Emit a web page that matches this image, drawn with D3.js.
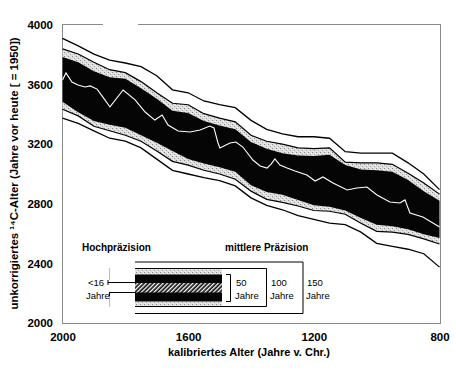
<!DOCTYPE html>
<html><head><meta charset="utf-8">
<script src="https://cdn.jsdelivr.net/npm/d3@7"></script>
<style>body{margin:0;background:#fff}svg{display:block}</style>
</head><body><svg id="c" width="456" height="370"></svg>
<script>
// calibrated age (years BC) sample positions for the envelope lines
const years = [2000,1950,1900,1850,1800,1750,1700,1650,1600,1550,1500,1450,1400,1350,1300,1250,1200,1150,1100,1050,1000,950,900,850,800];
// uncorrected 14C ages of envelope boundaries (top to bottom)
const outerUpper = [3910,3860,3805,3765,3745,3720,3660,3565,3545,3490,3465,3445,3360,3300,3270,3250,3250,3240,3150,3140,3140,3140,3075,3000,2895];
const innerUpper = [3840,3805,3750,3700,3680,3620,3545,3475,3465,3405,3375,3350,3260,3220,3200,3175,3170,3175,3080,3075,3075,3065,3005,2940,2865];
const blackUpper = [3785,3750,3690,3650,3640,3575,3505,3425,3410,3355,3325,3300,3215,3170,3140,3125,3120,3130,3060,3030,3025,3015,2960,2885,2820];
const blackLower = [3485,3415,3355,3330,3310,3260,3210,3155,3100,3070,3045,3015,2925,2880,2860,2825,2790,2780,2755,2705,2660,2650,2630,2595,2570];
const innerLower = [3435,3390,3320,3290,3260,3220,3155,3085,3060,3025,3000,2965,2885,2830,2810,2785,2755,2750,2730,2670,2615,2610,2595,2565,2530];
const outerLower = [3375,3340,3290,3240,3220,3175,3100,3025,3000,2975,2955,2920,2840,2790,2760,2720,2695,2670,2660,2610,2535,2515,2495,2465,2375];
// high-precision centre curve
const centerYears = [2000,1989,1970,1951,1928,1912,1890,1865,1849,1807,1769,1737,1706,1683,1664,1632,1594,1562,1531,1518,1505,1499,1467,1448,1426,1394,1371,1349,1336,1324,1308,1285,1260,1222,1196,1171,1139,1094,1063,1031,999,958,926,910,894,853,805,800];
const centerAges  = [3631,3678,3617,3597,3584,3591,3570,3497,3450,3564,3497,3416,3362,3396,3329,3289,3282,3295,3322,3309,3208,3175,3208,3215,3181,3094,3054,3040,3067,3101,3060,3040,3020,2993,2953,2980,2940,2893,2906,2913,2859,2812,2805,2826,2738,2711,2651,2644];
const xTicks = [2000,1600,1200,800];
const yTicks = [2000,2400,2800,3200,3600,4000];
const xTitle = "kalibriertes Alter (Jahre v. Chr.)";
const yTitle = "unkorrigiertes \u00B9\u2074C-Alter (Jahre vor heute [ = 1950])";
const legendTitles = ["Hochpräzision","mittlere Präzision"];
const legendSpans = ["50","100","150"];
const legendCenter = "<16";

const svg = d3.select("#c");
const FONT = "'Liberation Sans', Arial, Helvetica, sans-serif";
const x = d3.scaleLinear().domain([2000,800]).range([62.5,439.5]);
const y = d3.scaleLinear().domain([2000,4000]).range([323,25]);

const defs = svg.append("defs");
const st = defs.append("pattern").attr("id","stip").attr("patternUnits","userSpaceOnUse").attr("width",4).attr("height",4);
st.append("rect").attr("width",4).attr("height",4).attr("fill","#dedede");
st.append("rect").attr("x",0).attr("y",0).attr("width",1).attr("height",1).attr("fill","#8a8a8a");
st.append("rect").attr("x",2).attr("y",2).attr("width",1).attr("height",1).attr("fill","#a4a4a4");
st.append("rect").attr("x",3).attr("y",1).attr("width",1).attr("height",1).attr("fill","#f4f4f4");
st.append("rect").attr("x",1).attr("y",3).attr("width",1).attr("height",1).attr("fill","#f4f4f4");
const ht = defs.append("pattern").attr("id","hatch").attr("patternUnits","userSpaceOnUse").attr("width",3).attr("height",3).attr("patternTransform","rotate(45)");
ht.append("rect").attr("width",3).attr("height",3).attr("fill","#111");
ht.append("rect").attr("width",1.3).attr("height",3).attr("fill","#fff");

const rows = years.map((yr,i)=>({yr,ou:outerUpper[i],iu:innerUpper[i],bu:blackUpper[i],bl:blackLower[i],il:innerLower[i],ol:outerLower[i]}));

// frame
const fr = svg.append("g").attr("stroke","#8a8a8a").attr("stroke-width",1).attr("fill","none");
fr.append("line").attr("x1",62.5).attr("x2",62.5).attr("y1",24.5).attr("y2",323.5);
fr.append("line").attr("x1",62).attr("x2",441).attr("y1",323.5).attr("y2",323.5);
fr.append("line").attr("x1",440.5).attr("x2",440.5).attr("y1",24.5).attr("y2",323.5);
fr.append("line").attr("x1",62).attr("x2",103).attr("y1",24.5).attr("y2",24.5);
fr.append("line").attr("x1",138).attr("x2",441).attr("y1",24.5).attr("y2",24.5);

// gray (stippled) 100-year band
svg.append("path").datum(rows)
  .attr("d", d3.area().x(d=>x(d.yr)).y0(d=>y(d.il)).y1(d=>y(d.iu)))
  .attr("fill","url(#stip)");
// black 50-year band
svg.append("path").datum(rows)
  .attr("d", d3.area().x(d=>x(d.yr)).y0(d=>y(d.bl)).y1(d=>y(d.bu)))
  .attr("fill","#050505");
// lines
[["ou",1.3],["iu",1.2],["il",1.2],["ol",1.3]].forEach(([k,w])=>{
  svg.append("path").datum(rows)
    .attr("d", d3.line().x(d=>x(d.yr)).y(d=>y(d[k])))
    .attr("fill","none").attr("stroke","#000").attr("stroke-width",w);
});
// centre curve
svg.append("path").datum(centerYears.map((yr,i)=>[yr,centerAges[i]]))
  .attr("d", d3.line().x(d=>x(d[0])).y(d=>y(d[1])))
  .attr("fill","none").attr("stroke","#fff").attr("stroke-width",1.1);

// axes
const ya = svg.append("g").attr("transform","translate(62.5,0)")
  .call(d3.axisLeft(y).tickValues(yTicks).tickSize(0).tickPadding(9.5).tickFormat(d3.format("d")));
ya.select(".domain").remove();
ya.selectAll("text").attr("font-family",FONT).attr("font-weight","bold").attr("font-size",11.5).attr("fill","#000");
const xa = svg.append("g").attr("transform","translate(0,323)")
  .call(d3.axisBottom(x).tickValues(xTicks).tickSize(0).tickPadding(10).tickFormat(d3.format("d")));
xa.select(".domain").remove();
xa.selectAll("text").attr("font-family",FONT).attr("font-weight","bold").attr("font-size",11.5).attr("fill","#000");

svg.append("text").attr("x",249).attr("y",356).attr("text-anchor","middle")
  .attr("font-family",FONT).attr("font-weight","bold").attr("font-size",10.5)
  .attr("textLength",162).attr("lengthAdjust","spacingAndGlyphs").text(xTitle);
svg.append("text").attr("transform","translate(18,173.5) rotate(-90)").attr("text-anchor","middle")
  .attr("font-family",FONT).attr("font-weight","bold").attr("font-size",10.5)
  .attr("textLength",272).attr("lengthAdjust","spacingAndGlyphs").text(yTitle);

// legend
const L = svg.append("g");
const bx0 = 135, bx1 = 222;
L.append("text").attr("x",82).attr("y",251).attr("font-family",FONT).attr("font-weight","bold").attr("font-size",10).text(legendTitles[0]);
L.append("text").attr("x",225).attr("y",251).attr("font-family",FONT).attr("font-weight","bold").attr("font-size",10).text(legendTitles[1]);
L.append("rect").attr("x",bx0).attr("y",269).attr("width",bx1-bx0).attr("height",37).attr("fill","url(#stip)");
L.append("rect").attr("x",bx0).attr("y",274.5).attr("width",bx1-bx0).attr("height",27).attr("fill","#050505");
L.append("rect").attr("x",bx0).attr("y",283).attr("width",bx1-bx0).attr("height",9.5).attr("fill","url(#hatch)");
const ll = L.append("g").attr("stroke","#000").attr("stroke-width",1).attr("fill","none");
ll.append("line").attr("x1",bx0).attr("x2",303).attr("y1",262).attr("y2",262);
ll.append("line").attr("x1",bx0).attr("x2",303).attr("y1",313.5).attr("y2",313.5);
ll.append("line").attr("x1",303).attr("x2",303).attr("y1",262).attr("y2",313.5);
ll.append("line").attr("x1",bx0).attr("x2",266.5).attr("y1",268.5).attr("y2",268.5);
ll.append("line").attr("x1",bx0).attr("x2",266.5).attr("y1",306.5).attr("y2",306.5);
ll.append("line").attr("x1",266.5).attr("x2",266.5).attr("y1",268.5).attr("y2",306.5);
ll.append("path").attr("d","M226,274.5H230.5V301.5H226");
ll.append("line").attr("x1",108).attr("x2",bx0).attr("y1",282.5).attr("y2",282.5);
ll.append("line").attr("x1",109).attr("x2",bx0).attr("y1",292.5).attr("y2",292.5);
ll.append("line").attr("x1",108).attr("x2",108).attr("y1",280).attr("y2",285);
ll.append("line").attr("x1",109.5).attr("x2",109.5).attr("y1",292.5).attr("y2",296);
const lg = L.append("g").attr("stroke","#bbb").attr("stroke-width",1);
lg.append("line").attr("x1",109.5).attr("x2",109.5).attr("y1",268).attr("y2",280);
lg.append("line").attr("x1",109.5).attr("x2",109.5).attr("y1",296).attr("y2",307);
const tf = s=>s.attr("font-family",FONT).attr("font-size",9.5).attr("fill","#000");
tf(L.append("text").attr("x",88).attr("y",286).text(legendCenter));
tf(L.append("text").attr("x",86).attr("y",299).text("Jahre"));
[[236,legendSpans[0]],[271,legendSpans[1]],[307,legendSpans[2]]].forEach(([tx,t])=>{
  tf(L.append("text").attr("x",tx).attr("y",286).text(t));
  tf(L.append("text").attr("x",tx-1).attr("y",299).text("Jahre"));
});
</script></body></html>
